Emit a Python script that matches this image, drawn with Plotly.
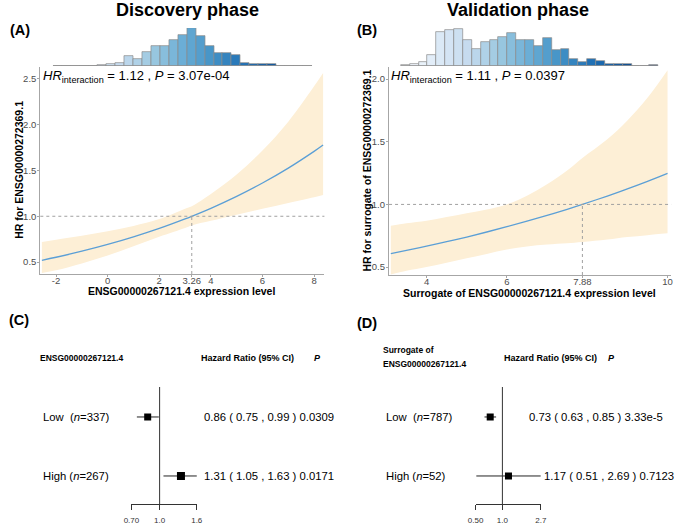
import math
import plotly.graph_objects as go

W, H = 685, 526
FONT = "Arial, Liberation Sans, sans-serif"

# ---------------- data: panel A (discovery) ----------------
a_x = [-2.55, -2, -1, 0, 1, 2, 3, 3.26, 4, 5, 6, 7, 8, 8.35]
a_hr = [0.519, 0.552, 0.618, 0.692, 0.775, 0.867, 0.971, 1.0, 1.087, 1.217, 1.363, 1.526, 1.709, 1.778]
a_lo = [0.38, 0.41, 0.485, 0.572, 0.672, 0.776, 0.872, 0.90, 0.95, 1.017, 1.081, 1.145, 1.207, 1.233]
a_hi = [0.72, 0.744, 0.788, 0.837, 0.894, 0.969, 1.082, 1.11, 1.244, 1.457, 1.719, 2.034, 2.42, 2.565]
a_cut = 3.26
a_hist_centers = [-1.94, -1.594, -1.248, -0.902, -0.556, -0.21, 0.136, 0.482, 0.828, 1.174,
                  1.52, 1.866, 2.212, 2.558, 2.904, 3.25, 3.596, 3.942, 4.288, 4.634,
                  4.98, 5.326, 5.672, 6.018, 6.364, 6.71, 7.056, 7.402, 7.748]
a_hist_counts = [1, 0, 0, 0, 0, 2, 4, 7, 22, 15, 31, 45, 45, 58, 70, 85, 67, 45, 30, 30,
                 25, 7, 4, 4, 5, 0, 0, 0, 1]
a_bin_width = 0.346
a_xticks = [-2, 0, 2, 3.26, 4, 6, 8]
a_xticktext = ["-2", "0", "2", "3.26", "4", "6", "8"]
a_yticks = [0.5, 1.0, 1.5, 2.0, 2.5]
a_yticktext = ["0.5", "1.0", "1.5", "2.0", "2.5"]
a_hr_int = "1.12"
a_p_int = "3.07e-04"

# ---------------- data: panel B (validation) ----------------
b_x = [3.11, 3.5, 4, 4.5, 5, 5.5, 6, 6.5, 7, 7.5, 7.88, 8.5, 9, 9.5, 10.0]
b_hr = [0.608, 0.633, 0.667, 0.703, 0.740, 0.780, 0.822, 0.866, 0.912, 0.961, 1.0, 1.067, 1.124, 1.184, 1.248]
b_lo = [0.44, 0.47, 0.50, 0.535, 0.57, 0.605, 0.64, 0.665, 0.68, 0.69, 0.70, 0.72, 0.74, 0.755, 0.77]
b_hi = [0.83, 0.85, 0.87, 0.90, 0.93, 0.96, 1.00, 1.07, 1.16, 1.27, 1.37, 1.52, 1.67, 1.85, 2.07]
b_cut = 7.88
b_hist_centers = [3.47, 3.691, 3.912, 4.133, 4.354, 4.575, 4.796, 5.017, 5.238, 5.459,
                  5.68, 5.901, 6.122, 6.343, 6.564, 6.785, 7.006, 7.227, 7.448, 7.669,
                  7.89, 8.111, 8.332, 8.553, 8.774, 8.995, 9.216, 9.437, 9.658]
b_hist_counts = [1, 4, 8, 21, 64, 68, 71, 49, 33, 46, 49, 55, 63, 49, 49, 38, 54, 30, 32, 14,
                 7, 14, 9, 4, 4, 4, 0, 0, 1]
b_bin_width = 0.221
b_xticks = [4, 6, 7.88, 10]
b_xticktext = ["4", "6", "7.88", "10"]
b_yticks = [0.5, 1.0, 1.5, 2.0]
b_yticktext = ["0.5", "1.0", "1.5", "2.0"]
b_hr_int = "1.11"
b_p_int = "0.0397"

# ---------------- data: forest plots ----------------
f_groups = ["Low", "High"]
c_n = [337, 267]
c_hr = [0.86, 1.31]
c_lo = [0.75, 1.05]
c_hi = [0.99, 1.63]
c_p = ["0.0309", "0.0171"]
c_ticks = [0.70, 1.0, 1.6]
c_ticktext = ["0.70", "1.0", "1.6"]

d_n = [787, 52]
d_hr = [0.73, 1.17]
d_lo = [0.63, 0.51]
d_hi = [0.85, 2.69]
d_p = ["3.33e-5", "0.7123"]
d_ticks = [0.50, 1.0, 2.7]
d_ticktext = ["0.50", "1.0", "2.7"]

# ---------------- styles ----------------
BLUES = [[0.0, "#f7fbff"], [0.125, "#deebf7"], [0.25, "#c6dbef"], [0.375, "#9ecae1"],
         [0.5, "#6baed6"], [0.625, "#4292c6"], [0.75, "#2171b5"], [0.875, "#08519c"],
         [1.0, "#08306b"]]
BAND = "#fdefd6"
CURVE = "#5b9fd6"
AXC = "#a6a6a6"
TICKC = "#4d4d4d"


def px_x(p):
    return p / W


def px_y(p):
    return (H - p) / H


fig = go.Figure()


def add_curve(x, hr, lo, hi, xa, ya):
    fig.add_trace(go.Scatter(x=x, y=lo, mode="lines", line=dict(width=0, shape="spline", color=BAND),
                             xaxis=xa, yaxis=ya, hoverinfo="skip"))
    fig.add_trace(go.Scatter(x=x, y=hi, mode="lines", line=dict(width=0, shape="spline", color=BAND),
                             fill="tonexty", fillcolor=BAND, xaxis=xa, yaxis=ya, hoverinfo="skip"))
    fig.add_trace(go.Scatter(x=x, y=hr, mode="lines", line=dict(width=1.3, shape="spline", color=CURVE),
                             xaxis=xa, yaxis=ya))


def add_hist(centers, counts, width, xa, ya):
    fig.add_trace(go.Bar(x=centers, y=counts, width=width,
                         marker=dict(color=centers, colorscale=BLUES, cmin=centers[0], cmax=centers[-1],
                                     line=dict(color="#8a8a8a", width=0.7)),
                         xaxis=xa, yaxis=ya))
    fig.add_trace(go.Scatter(x=[centers[0] - width / 2, centers[-1] + width / 2], y=[0, 0], mode="lines",
                             line=dict(color="#8a8a8a", width=0.9), xaxis=xa, yaxis=ya))


add_curve(a_x, a_hr, a_lo, a_hi, "x", "y")
add_hist(a_hist_centers, a_hist_counts, a_bin_width, "x2", "y2")
add_curve(b_x, b_hr, b_lo, b_hi, "x3", "y3")
add_hist(b_hist_centers, b_hist_counts, b_bin_width, "x4", "y4")


def add_forest(hr, lo, hi, xa, ya, sizes):
    rows = [2, 1]
    for r, h, l, u, s in zip(rows, hr, lo, hi, sizes):
        fig.add_trace(go.Scatter(x=[l, u], y=[r, r], mode="lines", line=dict(color="#222", width=1),
                                 xaxis=xa, yaxis=ya))
        fig.add_trace(go.Scatter(x=[h], y=[r], mode="markers",
                                 marker=dict(symbol="square", size=s, color="black"),
                                 xaxis=xa, yaxis=ya))


add_forest(c_hr, c_lo, c_hi, "x5", "y5", [7, 8])
add_forest(d_hr, d_lo, d_hi, "x6", "y6", [7, 7])

a_xr = [-2.61, 8.40]
a_yr = [0.369, 2.631]
b_xr = [3.066, 10.09]
b_yr = [0.437, 2.096]
f_yr = [0.525, 2.508]


def curve_axes(xd, yd, xr, yr, xt, xtt, yt, ytt, ya_name, xa_name):
    xa = dict(domain=xd, range=xr, showline=True, linecolor=AXC, linewidth=1.2, ticks="outside",
              ticklen=2, tickcolor=AXC, tickvals=xt, ticktext=xtt, showgrid=False, zeroline=False,
              tickfont=dict(size=9.5, color=TICKC, family=FONT), anchor=ya_name, ticklabelstandoff=-5)
    ya = dict(domain=yd, range=yr, showline=True, linecolor=AXC, linewidth=1.2, ticks="outside",
              ticklen=2, tickcolor=AXC, tickvals=yt, ticktext=ytt, showgrid=False, zeroline=False,
              tickfont=dict(size=9.5, color=TICKC, family=FONT), anchor=xa_name, ticklabelstandoff=-1)
    return xa, ya


xa1, ya1 = curve_axes([px_x(33), px_x(323)], [px_y(274), px_y(67)], a_xr, a_yr,
                      a_xticks, a_xticktext, a_yticks, a_yticktext, "y", "x")
xa3, ya3 = curve_axes([px_x(389), px_x(677)], [px_y(275), px_y(67)], b_xr, b_yr,
                      b_xticks, b_xticktext, b_yticks, b_yticktext, "y3", "x3")

hist_dom = [px_y(66), px_y(28)]
hidden = dict(visible=False, showgrid=False, zeroline=False)


def forest_x(dom, ticks, ttext, ya_name):
    return dict(domain=dom, type="log", range=[math.log10(ticks[0]), math.log10(ticks[-1])],
                showline=True, linecolor="#333", linewidth=1, ticks="outside", ticklen=5,
                tickcolor="#333", tickvals=ticks, ticktext=ttext, showgrid=False, zeroline=False,
                tickfont=dict(size=8, color="#333", family=FONT), anchor=ya_name,
                ticklabelstandoff=3)


fig.update_layout(
    width=W, height=H, margin=dict(l=0, r=0, t=0, b=0),
    paper_bgcolor="white", plot_bgcolor="white", showlegend=False,
    bargap=0, font=dict(family=FONT, color="black"),
    xaxis=xa1, yaxis=ya1,
    xaxis2=dict(domain=[px_x(33), px_x(323)], range=a_xr, anchor="y2", **hidden),
    yaxis2=dict(domain=hist_dom, range=[0, 85], anchor="x2", **hidden),
    xaxis3=xa3, yaxis3=ya3,
    xaxis4=dict(domain=[px_x(389), px_x(677)], range=b_xr, anchor="y4", **hidden),
    yaxis4=dict(domain=hist_dom, range=[0, 72], anchor="x4", **hidden),
    xaxis5=forest_x([px_x(126), px_x(192.7)], c_ticks, c_ticktext, "y5"),
    yaxis5=dict(domain=[px_y(504), px_y(387)], range=f_yr, anchor="x5", **hidden),
    xaxis6=forest_x([px_x(477.3), px_x(544)], d_ticks, d_ticktext, "y6"),
    yaxis6=dict(domain=[px_y(504), px_y(387)], range=f_yr, anchor="x6", **hidden),
)

dot = dict(color="#a0a0a0", width=1, dash="dot")
shapes = [
    dict(type="line", xref="x domain", yref="y", x0=0, x1=1, y0=1, y1=1, line=dot),
    dict(type="line", xref="x", yref="y", x0=a_cut, x1=a_cut, y0=a_yr[0], y1=1, line=dot),
    dict(type="line", xref="x3 domain", yref="y3", x0=0, x1=1, y0=1, y1=1, line=dot),
    dict(type="line", xref="x3", yref="y3", x0=b_cut, x1=b_cut, y0=b_yr[0], y1=1, line=dot),
    dict(type="line", xref="x5", yref="y5 domain", x0=1, x1=1, y0=0, y1=1,
         line=dict(color="#333", width=1)),
    dict(type="line", xref="x6", yref="y6 domain", x0=1, x1=1, y0=0, y1=1,
         line=dict(color="#333", width=1)),
]
fig.update_layout(shapes=shapes)

ann = []


def txt(x, y, text, size, xanchor="left", yanchor="middle", xref="paper", yref="paper", angle=0,
        color="black"):
    ann.append(dict(x=x, y=y, xref=xref, yref=yref, text=text, showarrow=False, xanchor=xanchor,
                    yanchor=yanchor, textangle=angle, borderpad=0,
                    font=dict(size=size, color=color, family=FONT)))


txt(px_x(183), px_y(10), "<b>Discovery phase</b>", 18, xanchor="center")
txt(px_x(521), px_y(10), "<b>Validation phase</b>", 18, xanchor="center")
txt(px_x(1), px_y(30), "<b>(A)</b>", 14.5)
txt(px_x(355), px_y(30), "<b>(B)</b>", 14.5)
txt(px_x(0), px_y(320), "<b>(C)</b>", 14.5)
txt(px_x(355), px_y(323), "<b>(D)</b>", 14.5)

txt(px_x(35), px_y(76), f"<i>HR</i><sub>interaction</sub> = {a_hr_int} , <i>P</i> = {a_p_int}", 13)
txt(px_x(390), px_y(76), f"<i>HR</i><sub>interaction</sub> = {b_hr_int} , <i>P</i> = {b_p_int}", 13)

txt(px_x(11), px_y(170), "<b>HR for ENSG00000272369.1</b>", 10.5, xanchor="center", angle=-90)
txt(px_x(177), px_y(291.5), "<b>ENSG00000267121.4 expression level</b>", 10.5, xanchor="center")
txt(px_x(366), px_y(171), "<b>HR for surrogate of ENSG00000272369.1</b>", 10.5, xanchor="center", angle=-90)
txt(px_x(532), px_y(292.5), "<b>Surrogate of ENSG00000267121.4 expression level</b>", 10.5, xanchor="center")

txt(px_x(31.5), px_y(358), "<b>ENSG00000267121.4</b>", 8.5)
txt(px_x(196.5), px_y(358), "<b>Hazard Ratio (95% CI)</b>", 9)
txt(px_x(311.5), px_y(358), "<b><i>P</i></b>", 9)
txt(px_x(382), px_y(350), "<b>Surrogate of</b>", 8.5)
txt(px_x(382), px_y(364), "<b>ENSG00000267121.4</b>", 8.5)
txt(px_x(505.5), px_y(358), "<b>Hazard Ratio (95% CI)</b>", 9)
txt(px_x(611.5), px_y(358), "<b><i>P</i></b>", 9)

rows = [2, 1]
c_text_x = [199, 199]
d_text_x = [530.5, 546.5]
for r, g, n, h, l, u, p, tx in zip(rows, f_groups, c_n, c_hr, c_lo, c_hi, c_p, c_text_x):
    sep = "&nbsp; " if g == "Low" else " "
    txt(px_x(35), r, f"{g}{sep}(<i>n</i>={n})", 11.3, yref="y5")
    txt(px_x(tx), r, f"{h:.2f} ( {l:.2f} , {u:.2f} ) {p}", 11.3, yref="y5")
for r, g, n, h, l, u, p, tx in zip(rows, f_groups, d_n, d_hr, d_lo, d_hi, d_p, d_text_x):
    sep = "&nbsp; " if g == "Low" else " "
    txt(px_x(385), r, f"{g}{sep}(<i>n</i>={n})", 11.3, yref="y6")
    txt(px_x(tx), r, f"{h:.2f} ( {l:.2f} , {u:.2f} ) {p}", 11.3, yref="y6")

fig.update_layout(annotations=ann)

fig.write_html("out.html", config={"displayModeBar": False},
               post_script="document.body.style.margin='0px';")
